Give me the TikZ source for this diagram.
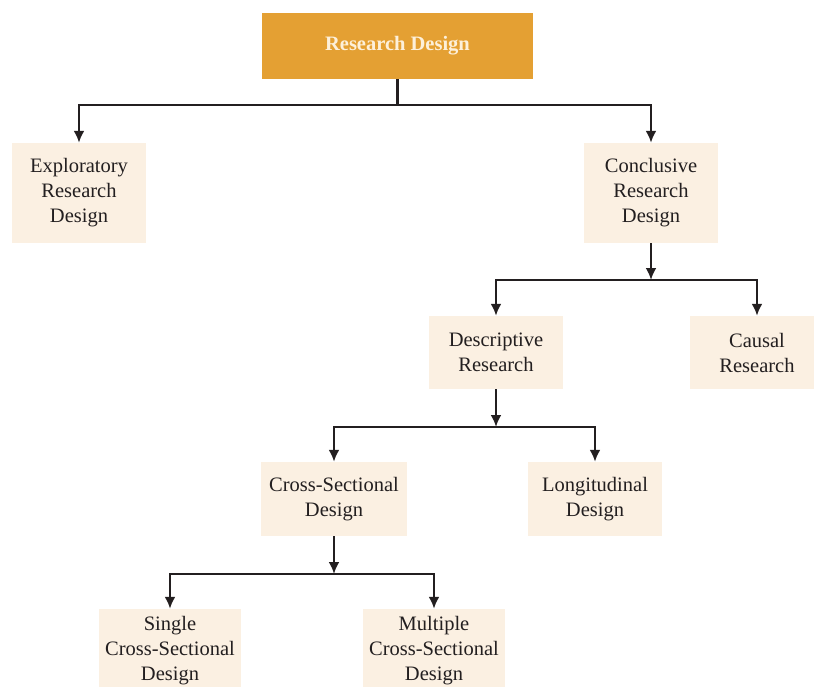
\documentclass[tikz,border=0pt]{standalone}
\usepackage{fontspec}
\setmainfont{Liberation Serif}
\usetikzlibrary{arrows.meta}
\definecolor{rootfill}{HTML}{E4A033}
\definecolor{roottext}{HTML}{FDF0DA}
\definecolor{boxfill}{HTML}{FBF0E2}
\definecolor{linecol}{HTML}{231F20}
\tikzset{
  box/.style={fill=boxfill, align=center, inner sep=0pt, minimum width=134pt,
    font=\fontsize{20.5}{25}\selectfont, text=linecol},
  rootbox/.style={fill=rootfill, align=center, inner sep=0pt, minimum width=271pt,
    minimum height=66pt, font=\fontsize{20.5}{25}\selectfont\bfseries, text=roottext},
  link/.style={draw=linecol, line width=2.4pt},
  arr/.style={link, -{Latex[length=12pt,width=11pt]}}
}
\begin{document}
\begin{tikzpicture}[x=1pt,y=-1pt]
      \useasboundingbox (0,0) rectangle (814,686);
      \node[rootbox] at (397.5,46) (root) {Research Design};
      \node[box, minimum height=100pt] at (79,193) (explor) {Exploratory\\Research\\Design};
      \node[box, minimum height=100pt] at (651,193) (concl) {Conclusive\\Research\\Design};
      \node[box, minimum height=73pt] at (496,352.5) (descr) {Descriptive\\Research};
      \node[box, minimum height=73pt] at (757,352.5) (causal) {Causal\\Research};
      \node[box, minimum width=146pt, minimum height=74pt] at (334,499) (cross) {Cross-Sectional\\Design};
      \node[box, minimum height=74pt] at (595,499) (longi) {Longitudinal\\Design};
      \node[box, minimum width=142pt, minimum height=84pt] at (170,651) (single) {Single\\Cross-Sectional\\Design};
      \node[box, minimum width=142pt, minimum height=84pt] at (434,651) (multi) {Multiple\\Cross-Sectional\\Design};
      \coordinate (j1) at (397.5,105);
      \coordinate (j2) at (651,280);
      \coordinate (j3) at (496,427);
      \coordinate (j4) at (334,574);
      \draw[link] (root) -- (j1);
      \draw[arr] (j1) -| (explor);
      \draw[arr] (j1) -| (concl);
      \draw[arr] (concl) -- (j2);
      \draw[arr] (j2) -| (descr);
      \draw[arr] (j2) -| (causal);
      \draw[arr] (descr) -- (j3);
      \draw[arr] (j3) -| (cross);
      \draw[arr] (j3) -| (longi);
      \draw[arr] (cross) -- (j4);
      \draw[arr] (j4) -| (single);
      \draw[arr] (j4) -| (multi);
\end{tikzpicture}
\end{document}
